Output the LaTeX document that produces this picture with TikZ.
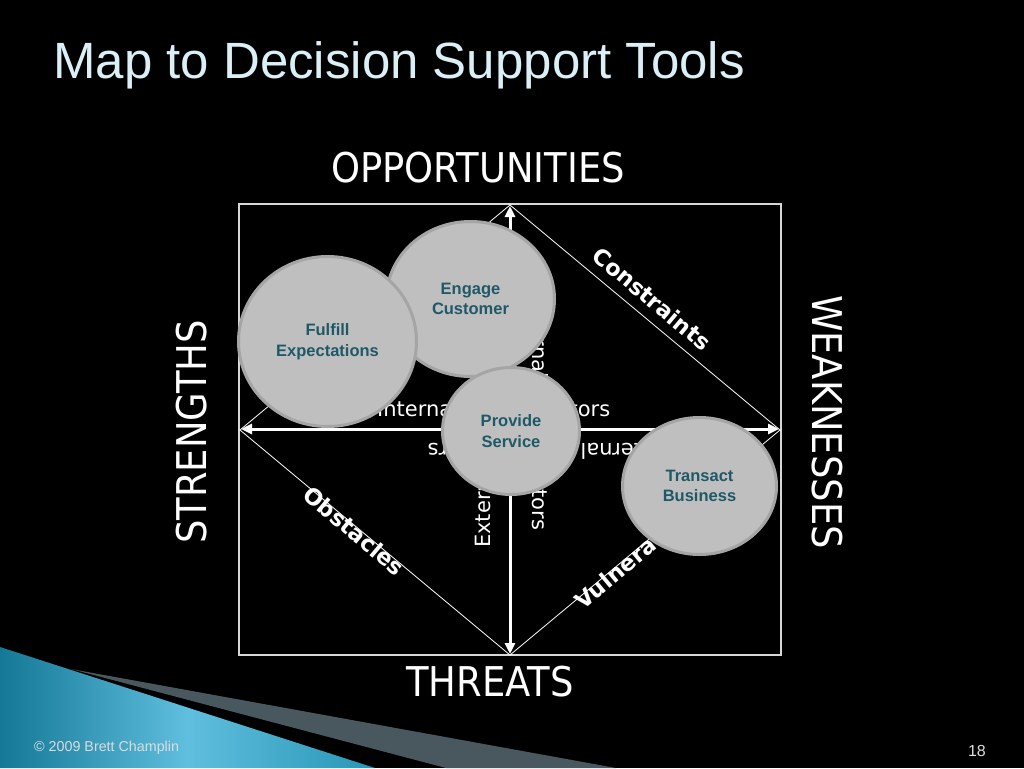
\documentclass[tikz,border=0pt]{standalone}
\usepackage{fontspec}
\setmainfont{Liberation Sans}
\newfontfamily\dvfont{DejaVu Sans}
\newfontfamily\capfont[FakeStretch=0.9]{DejaVu Sans}
\usetikzlibrary{arrows.meta,shapes.geometric}
\definecolor{titlecol}{RGB}{218,240,246}
\definecolor{cfill}{RGB}{191,191,191}
\definecolor{cborder}{RGB}{165,165,165}
\definecolor{ctext}{RGB}{31,89,104}
\definecolor{boxcol}{RGB}{215,215,215}
\definecolor{tealA}{RGB}{20,120,150}
\definecolor{tealB}{RGB}{96,190,222}
\definecolor{tealC}{RGB}{40,150,182}
\definecolor{slate}{RGB}{72,88,94}
\definecolor{foot}{RGB}{220,220,220}
\tikzset{
  circ/.style={shape=ellipse, fill=cfill, draw=cborder, line width=3pt, text=ctext,
    font=\fontsize{16.5}{20.5}\selectfont\bfseries, align=center, inner sep=0pt},
  bigcap/.style={text=white, inner sep=0pt, font=\capfont\fontsize{41}{45}\selectfont},
  axislab/.style={text=white, inner sep=0pt, font=\dvfont\fontsize{21}{25}\selectfont},
  diaglab/.style={text=white, inner sep=0pt, font=\dvfont\bfseries\fontsize{22.5}{26}\selectfont},
  axisarrow/.style={draw=white, line width=3pt, {Triangle[length=11pt,width=10pt]}-{Triangle[length=11pt,width=10pt]}},
  thinline/.style={draw=white, line width=0.8pt}
}
\begin{document}
\begin{tikzpicture}[x=1pt,y=-1pt]
\useasboundingbox (0,0) rectangle (1024,768);
\fill[black] (0,0) rectangle (1024,768);
% bottom-left decoration
\shade[left color=tealA, right color=tealC, middle color=tealB] (0,647) -- (375,768) -- (0,768) -- cycle;
\fill[slate] (71,669) -- (616,768) -- (446,768) -- cycle;
% title
\node[anchor=base west, inner sep=0pt, text=titlecol, font=\fontsize{51}{57}\selectfont] (title) at (53,78) {Map to Decision Support Tools};
% footer
\node[anchor=base west, inner sep=0pt, text=foot, font=\fontsize{14.3}{17}\selectfont] (copy) at (34,751) {\textcopyright{} 2009 Brett Champlin};
\node[anchor=base east, inner sep=0pt, text=foot, font=\fontsize{16}{18}\selectfont] (page) at (986,756) {18};
% frame box
\node[draw=boxcol, line width=1.2pt, minimum width=542pt, minimum height=451pt, inner sep=0pt] (box) at (510,429.5) {};
\coordinate (top) at (510,205);
\coordinate (right) at (780,430);
\coordinate (bottom) at (510,655);
\coordinate (left) at (240,430);
\draw[thinline] (top) -- (right) -- (bottom) -- (left) -- cycle;
\coordinate (hl) at (241,429);
\coordinate (hr) at (779,429);
\coordinate (vt) at (510,206);
\coordinate (vb) at (510,654);
\draw[axisarrow] (hl) -- (hr);
\draw[axisarrow] (vt) -- (vb);
% side labels
\node[bigcap] (opp) at (478,168) {OPPORTUNITIES};
\node[bigcap] (thr) at (490,681.5) {THREATS};
\node[bigcap, rotate=90] (str) at (192,432) {STRENGTHS};
\node[bigcap, rotate=-90] (weak) at (827,422) {WEAKNESSES};
% axis labels
\node[axislab, anchor=base west] (intH) at (377,416) {\makebox[233pt]{Internal\hfill Factors}};
\node[axislab, anchor=base west, rotate=180] (extH) at (668,443) {\makebox[240pt]{External\hfill Factors}};
\node[axislab, anchor=base west, rotate=90] (extV) at (490,548) {\makebox[240pt]{External\hfill Factors}};
\node[axislab, anchor=base west, rotate=-90] (intV) at (532,297) {\makebox[233pt]{Internal\hfill Factors}};
% diagonal labels
\node[diaglab, rotate=-40] (cons) at (652,299) {Constraints};
\node[diaglab, rotate=-40] (obst) at (354,531) {Obstacles};
\node[diaglab, rotate=40, anchor=base west] (vuln) at (583,611) {Vulnerabilities};
% circles
\node[circ, minimum width=168pt, minimum height=155pt] (engage) at (470.5,299) {Engage\\Customer};
\node[circ, minimum width=178pt, minimum height=170pt] (fulfill) at (327.5,341.5) {Fulfill\\Expectations};
\node[circ, minimum width=137pt, minimum height=127pt] (provide) at (511,431) {Provide\\Service};
\node[circ, minimum width=154pt, minimum height=137pt] (transact) at (699.5,486) {Transact\\Business};
\end{tikzpicture}
\end{document}
